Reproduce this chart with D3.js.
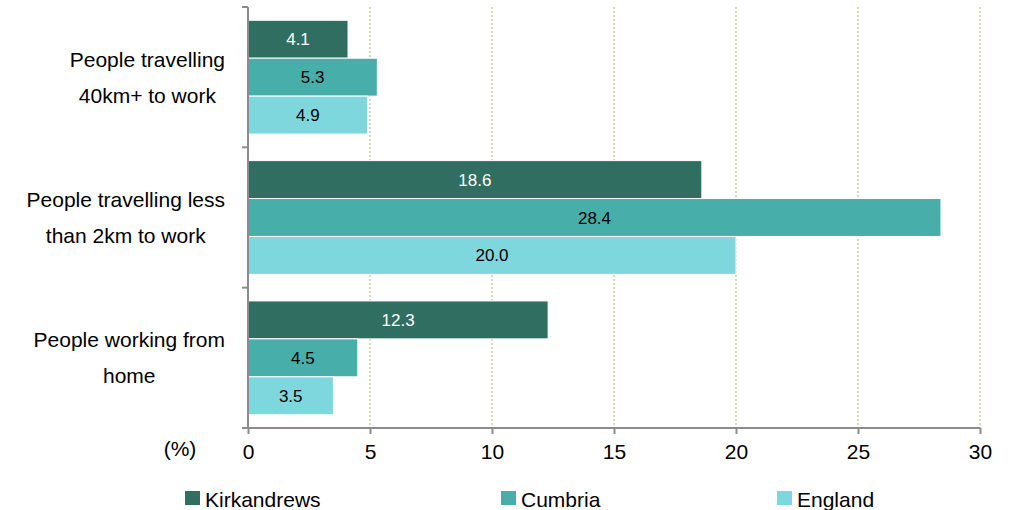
<!DOCTYPE html>
<html>
<head>
<meta charset="utf-8">
<script src="https://cdn.jsdelivr.net/npm/d3@7"></script>
<style>
  html, body { margin: 0; padding: 0; background: #fff; }
  svg { display: block; font-family: "Liberation Sans", Arial, sans-serif; }
</style>
</head>
<body>
<svg id="chart" width="1015" height="510"></svg>
<script>
// category labels, each split the way the reference wraps them
const categories = ['40km', 'lt2km', 'home'];
const categoryLines = [
    ['People travelling', '40km+ to work'],
    ['People travelling less', 'than 2km to work'],
    ['People working from', 'home']
];
const seriesNames = ['Kirkandrews', 'Cumbria', 'England'];
const kirkandrews = [4.1, 18.6, 12.3];
const cumbria = [5.3, 28.4, 4.5];
const england = [4.9, 20.0, 3.5];
const xTicks = [0, 5, 10, 15, 20, 25, 30];

const colors = ['#2f6e61', '#47aeaa', '#7fd7de'];
const labelColors = ['#ffffff', '#000000', '#000000'];
const values = [kirkandrews, cumbria, england];

const svg = d3.select('#chart');
const axisColor = '#8c8c8c';

const x = d3.scaleLinear().domain([0, 30]).range([248, 980]);
const y = d3.scaleBand().domain(categories).range([7, 428]).paddingInner(0).paddingOuter(0);
const ys = d3.scaleBand().domain(seriesNames).range([0, y.bandwidth()]).paddingInner(0).paddingOuter(0.35);

// dotted gridlines
svg.append('g')
    .selectAll('line')
    .data(xTicks.filter(d => d > 0))
    .join('line')
    .attr('x1', d => x(d)).attr('x2', d => x(d))
    .attr('y1', 7).attr('y2', 428)
    .attr('stroke', '#dcd7b6')
    .attr('stroke-width', 2)
    .attr('stroke-dasharray', '2,2');

// bars
const rows = [];
categories.forEach((c, i) => {
    seriesNames.forEach((s, j) => rows.push({ cat: c, series: s, si: j, value: values[j][i] }));
});

const bars = svg.append('g');
bars.selectAll('rect')
    .data(rows)
    .join('rect')
    .attr('x', x(0))
    .attr('y', d => y(d.cat) + ys(d.series))
    .attr('width', d => x(d.value) - x(0))
    .attr('height', ys.bandwidth())
    .attr('fill', d => colors[d.si])
    .attr('stroke', '#ffffff')
    .attr('stroke-width', 1);

bars.selectAll('text')
    .data(rows)
    .join('text')
    .attr('x', d => (x(d.value) + x(0)) / 2)
    .attr('y', d => y(d.cat) + ys(d.series) + ys.bandwidth() / 2 + 6)
    .attr('text-anchor', 'middle')
    .attr('font-size', 17)
    .attr('fill', d => labelColors[d.si])
    .text(d => d3.format('.1f')(d.value));

// x axis
const xAxis = svg.append('g')
    .attr('transform', 'translate(0,428)')
    .call(d3.axisBottom(x).tickValues(xTicks).tickSize(6).tickSizeOuter(0).tickPadding(10));
xAxis.select('.domain').remove();
xAxis.append('line')
    .attr('x1', 242).attr('x2', x(30))
    .attr('stroke', axisColor).attr('stroke-width', 2);
xAxis.selectAll('.tick line').attr('stroke', axisColor).attr('stroke-width', 2);
xAxis.selectAll('.tick text')
    .attr('font-size', 21)
    .attr('font-family', '"Liberation Sans", Arial, sans-serif')
    .attr('fill', '#000');

// y axis with ticks at band boundaries
const yEdges = categories.map(c => y(c)).concat([y.range()[1]]);
const yAxis = svg.append('g');
yAxis.append('line')
    .attr('x1', x(0)).attr('x2', x(0))
    .attr('y1', yEdges[0]).attr('y2', yEdges[yEdges.length - 1])
    .attr('stroke', axisColor).attr('stroke-width', 2);
yAxis.selectAll('.ytick')
    .data(yEdges)
    .join('line')
    .attr('class', 'ytick')
    .attr('x1', x(0) - 6).attr('x2', x(0))
    .attr('y1', d => d).attr('y2', d => d)
    .attr('stroke', axisColor).attr('stroke-width', 2);

// category labels, block right aligned, lines centred
categories.forEach((c, i) => {
    const cy = y(c) + y.bandwidth() / 2;
    const g = svg.append('g');
    const texts = g.selectAll('text')
        .data(categoryLines[i])
        .join('text')
        .attr('font-size', 21)
        .attr('fill', '#000')
        .attr('text-anchor', 'middle')
        .attr('y', (d, k) => cy - 10.5 + k * 36)
        .text(d => d);
    let w = 0;
    texts.each(function () { w = Math.max(w, this.getComputedTextLength()); });
    texts.attr('x', 225 - w / 2);
});

svg.append('text')
    .attr('x', 180).attr('y', 456)
    .attr('text-anchor', 'middle')
    .attr('font-size', 21)
    .text('(%)');

// legend
const legendX = [185, 501, 777];
const legend = svg.append('g')
    .selectAll('g')
    .data(seriesNames)
    .join('g')
    .attr('transform', (d, i) => `translate(${legendX[i]},491)`);
legend.append('rect')
    .attr('width', 15).attr('height', 14)
    .attr('fill', (d, i) => colors[i]);
legend.append('text')
    .attr('x', 20).attr('y', 16)
    .attr('font-size', 21)
    .text(d => d);
</script>
</body>
</html>
